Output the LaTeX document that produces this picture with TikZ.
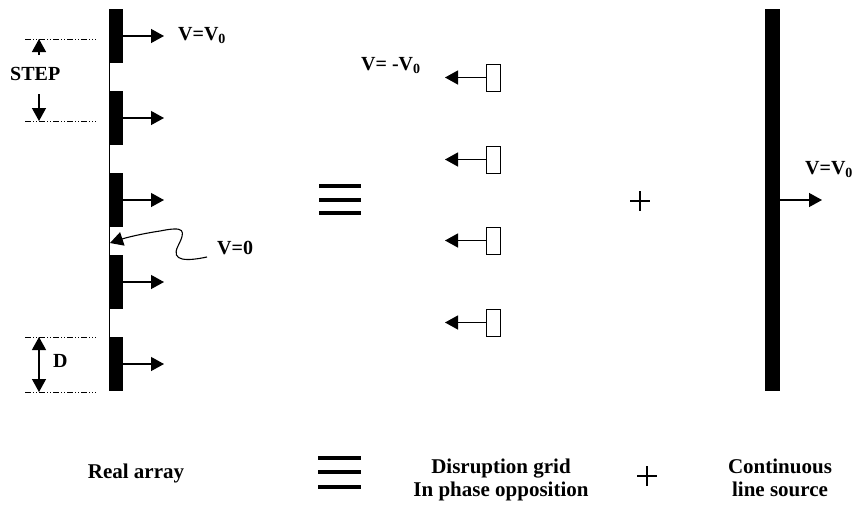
\documentclass[tikz,border=0pt]{standalone}
\usepackage{fontspec}
\setmainfont{Liberation Serif}
\usetikzlibrary{arrows.meta}
\begin{document}
\begin{tikzpicture}[x=1pt,y=-1pt,
  blk/.style={fill=black,draw=none,inner sep=0pt,minimum width=14pt,minimum height=54pt},
  gridbox/.style={draw=black,line width=1pt,fill=white,inner sep=0pt,minimum width=14pt,minimum height=27pt},
  barsrc/.style={fill=black,draw=none,inner sep=0pt,minimum width=15pt,minimum height=382pt},
  tipA/.tip={Triangle[length=13pt 0,width=14pt 0]},
  arr/.style={line width=1.3pt,-tipA},
  darr/.style={line width=1.3pt,tipA-tipA},
  dashline/.style={line width=0.9pt,dash pattern=on 6pt off 2pt on 1pt off 2pt on 1pt off 2pt},
  lbl/.style={inner sep=0pt,anchor=base west,font=\fontsize{20}{24}\selectfont\bfseries},
  captxt/.style={inner sep=0pt,anchor=base,font=\fontsize{21}{23}\selectfont\bfseries,align=center},
  eqbar/.style={line width=4pt}]
\useasboundingbox (0,0) rectangle (859,504);
% thin backbone of real array
\coordinate (bt) at (109.5,9);
\coordinate (bb) at (109.5,391);
\draw[line width=1.3pt] (bt) -- (bb);
% blocks and arrows
\foreach \i/\y in {1/36,2/118,3/200,4/282,5/364}{
  \node[blk] (b\i) at (116,\y) {};
  \coordinate (bt\i) at (164,\y);
  \draw[arr] (b\i.east) -- (bt\i);
}
\node[lbl] (v0a) at (178,40) {V=V\textsubscript{0}};
% STEP dimension
\coordinate (s1l) at (25,39); \coordinate (s1r) at (96,39);
\coordinate (s2l) at (25,121); \coordinate (s2r) at (96,121);
\draw[dashline] (s1l) -- (s1r);
\draw[dashline] (s2l) -- (s2r);
\coordinate (su0) at (39,55); \coordinate (su1) at (39,39);
\draw[arr] (su0) -- (su1);
\coordinate (sd0) at (39,94); \coordinate (sd1) at (39,121);
\draw[arr] (sd0) -- (sd1);
\node[lbl] (step) at (10,80) {STEP};
% D dimension
\coordinate (d1l) at (25,337); \coordinate (d1r) at (96,337);
\coordinate (d2l) at (25,392); \coordinate (d2r) at (96,392);
\draw[dashline] (d1l) -- (d1r);
\draw[dashline] (d2l) -- (d2r);
\coordinate (dt) at (39,337); \coordinate (db) at (39,392);
\draw[darr] (dt) -- (db);
\node[lbl] (dl) at (53,367) {D};
% V=0 leader
\node[lbl] (vz) at (217,254) {V=0};
\coordinate (vzs) at (207,257);
\coordinate (vzt) at (110,243);
\draw[line width=1.1pt,-tipA] (vzs) .. controls (188,261) and (170,262) .. (178,246) .. controls (186,230) and (185,226) .. (160,231) .. controls (140,234) and (125,238) .. (vzt);
% equivalence sign (middle)
\foreach \y in {186,200,213}{\draw[eqbar] (319,\y) -- (361,\y);}
% disruption grid
\node[lbl] (vm) at (361,70) {V= -V\textsubscript{0}};
\foreach \i/\y in {1/77.5,2/159.5,3/240.5,4/322.5}{
  \node[gridbox] (g\i) at (493.5,\y) {};
  \coordinate (gt\i) at (445,\y);
  \draw[arr] (g\i.west) -- (gt\i);
}
% plus (middle)
\draw[line width=2pt] (630,201) -- (650,201) (640,191) -- (640,211);
% continuous line source
\node[barsrc] (src) at (772.5,200) {};
\coordinate (srct) at (822,200);
\draw[arr] (src.east |- srct) -- (srct);
\node[lbl] (v0b) at (805,174) {V=V\textsubscript{0}};
% bottom captions
\node[captxt] (c1) at (136,478) {Real array};
\foreach \y in {458,472,487}{\draw[eqbar] (318,\y) -- (361,\y);}
\node[captxt] (c2) at (501,473) {Disruption grid};
\node[captxt] (c2b) at (501,496) {In phase opposition};
\draw[line width=2pt] (637,476) -- (657,476) (647,466) -- (647,486);
\node[captxt] (c3) at (780,473) {Continuous};
\node[captxt] (c3b) at (780,496) {line source};
\end{tikzpicture}
\end{document}
